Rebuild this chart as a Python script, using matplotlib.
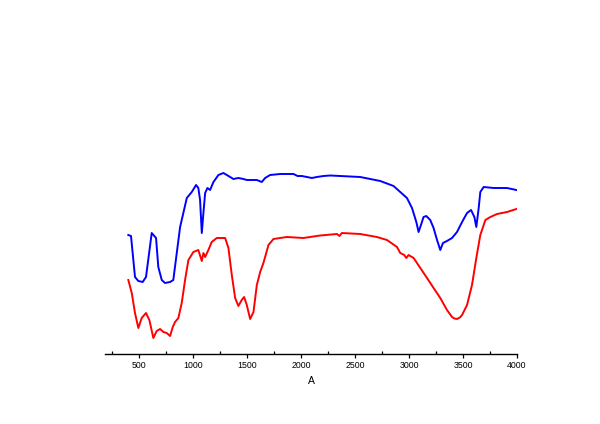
import matplotlib
matplotlib.use("Agg")
import matplotlib.pyplot as plt
from matplotlib.ticker import MultipleLocator

plt.rcParams['font.family'] = ['Liberation Sans', 'DejaVu Sans']

blue_wn = [398, 423, 460, 491, 531, 562, 615, 639, 655, 676,
           708, 738, 785, 815, 847, 878, 908, 940, 986, 1026,
           1047, 1063, 1079, 1094, 1110, 1131, 1156, 1187, 1233, 1279,
           1311, 1372, 1418, 1465, 1496, 1527, 1589, 1635, 1666, 1712,
           1805, 1929, 1966, 2006, 2053, 2099, 2145, 2207, 2269, 2362,
           2547, 2733, 2856, 2918, 2980, 3027, 3067, 3088, 3110, 3134,
           3159, 3196, 3227, 3259, 3289, 3314, 3351, 3398, 3444, 3491,
           3537, 3574, 3605, 3623, 3645, 3660, 3691, 3784, 3908, 3994]
blue_t = [119, 118, 77, 73, 72, 77, 121, 118, 116, 87,
          74, 71, 72, 74, 101, 127, 141, 156, 162, 169,
          166, 154, 121, 141, 161, 166, 164, 172, 179, 181,
          179, 175, 176, 175, 174, 174, 174, 172, 176, 179,
          180, 180, 178, 178, 177, 176, 177, 178, 178.5, 178,
          177, 173, 168, 162, 156, 146, 132, 122, 129, 137,
          138, 134, 126, 114, 104, 111, 113, 116, 122, 132,
          141, 144, 137, 127, 146, 162, 167, 166, 166, 164]

red_wn = [398, 430, 460, 491, 522, 562, 593, 630, 661, 692,
          723, 754, 785, 810, 831, 862, 893, 924, 955, 1001,
          1047, 1079, 1094, 1110, 1140, 1171, 1218, 1264, 1295, 1326,
          1357, 1388, 1418, 1449, 1471, 1496, 1527, 1558, 1589, 1620,
          1650, 1697, 1743, 1867, 2021, 2176, 2331, 2355, 2377, 2547,
          2702, 2795, 2888, 2918, 2955, 2974, 2995, 3042, 3104, 3166,
          3227, 3289, 3351, 3398, 3420, 3444, 3470, 3491, 3537, 3583,
          3623, 3660, 3707, 3753, 3815, 3908, 3994]
red_t = [74, 61, 41, 26, 36, 41, 34, 16, 23, 25,
         22, 21, 18, 27, 32, 36, 51, 74, 94, 102,
         104, 93, 101, 97, 104, 112, 116, 116, 116, 106,
         79, 56, 48, 54, 57, 49, 35, 42, 69, 82,
         91, 109, 115, 117, 116, 118.5, 120, 118, 121, 120,
         117, 114, 107, 101, 99, 96, 99, 96, 86, 76,
         66, 56, 44, 37, 35.5, 35, 36.5, 39, 49, 69,
         96, 119, 134, 137, 140, 142, 145]

x_label = "A"

fig = plt.figure(figsize=(6, 4.24), dpi=100)
ax = fig.add_axes([105/600, 70/424, 412/600, 300/424])
ax.plot(blue_wn, blue_t, color='#0000ff', lw=1.4, solid_joinstyle='round')
ax.plot(red_wn, red_t, color='#ff0000', lw=1.4, solid_joinstyle='round')

ax.set_xlim(182, 4000)
ax.set_ylim(0, 300)
for s in ['top', 'right', 'left']:
    ax.spines[s].set_visible(False)
ax.spines['bottom'].set_linewidth(1.0)
ax.set_yticks([])
ax.xaxis.set_major_locator(MultipleLocator(500))
ax.xaxis.set_minor_locator(MultipleLocator(250))
ax.tick_params(axis='x', which='major', direction='out', length=3, width=0.9, labelsize=6.3, pad=2)
ax.tick_params(axis='x', which='minor', direction='in', length=2, width=0.9)
ax.set_xlabel(x_label, fontsize=7.5, labelpad=4)

fig.savefig("out.png", dpi=100)
